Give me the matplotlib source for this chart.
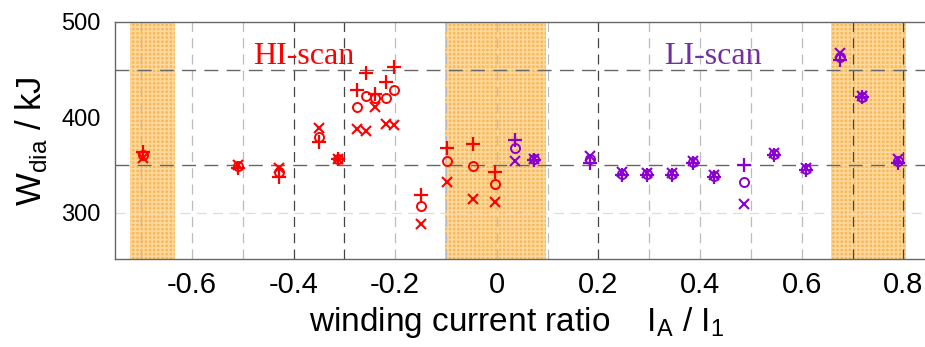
import matplotlib
matplotlib.use('Agg')
import matplotlib.pyplot as plt
import numpy as np

plt.rcParams['font.family'] = ['Liberation Sans', 'DejaVu Sans']
plt.rcParams['mathtext.fontset'] = 'custom'
plt.rcParams['mathtext.rm'] = 'Liberation Sans'
plt.rcParams['hatch.linewidth'] = 1.2

# HI-scan (red)
hi_x = [-0.697, -0.51, -0.429, -0.350, -0.313, -0.276, -0.258, -0.239, -0.219, -0.202,
        -0.150, -0.099, -0.047, -0.004]
hi_plus = [364, 347, 338, 374, 356, 429, 447, 425, 437, 453, 319, 368, 372, 343]
hi_circ = [361, 349, 343, 379, 356, 411, 422, 420, 420, 429, 307, 354, 349, 330]
hi_cross = [358, 350, 347, 389, 356, 388, 386, 411, 393, 392, 289, 332, 315, 311]

# LI-scan (purple)
li_x = [0.035, 0.073, 0.184, 0.247, 0.295, 0.344, 0.386, 0.428, 0.487, 0.546,
        0.608, 0.675, 0.719, 0.789]
li_plus = [376, 355, 352, 340, 340, 340, 352, 338, 350, 361, 345, 460, 421, 352]
li_circ = [368, 356, 356, 341, 341, 341, 353, 339, 332, 362, 346, 463, 421, 354]
li_cross = [354, 357, 360, 343, 342, 342, 354, 340, 309, 363, 347, 467, 422, 356]

# shaded ranges
bands = [(-0.722, -0.634), (-0.102, 0.096), (0.657, 0.805)]

red = '#ff0000'
purple = '#8a00d0'

fig = plt.figure(figsize=(9.25, 3.47), dpi=100)
ax = fig.add_axes([0.124, 0.254, 0.885, 0.683])

for a, b in bands:
    ax.axvspan(a, b, facecolor='#f7b95a', edgecolor='#fcd89c', hatch='++++', lw=0, zorder=0)

# grid
for xv in np.arange(-0.7, 0.81, 0.1):
    xv = round(xv, 1)
    dark = xv in (-0.4, -0.3, 0.2, 0.7, 0.8)
    ax.axvline(xv, color='#444444' if dark else '#bbbbbb', lw=0.9, ls=(0, (8, 5)), zorder=1)
for yv in (350, 450):
    ax.axhline(yv, color='#666666', lw=1.0, ls=(0, (10, 6)), zorder=1)
ax.axhline(300, color='#dddddd', lw=0.9, ls=(0, (8, 5)), zorder=1)

for xs, p, c, x_, col in [(hi_x, hi_plus, hi_circ, hi_cross, red),
                          (li_x, li_plus, li_circ, li_cross, purple)]:
    ax.plot(xs, p, '+', color=col, ms=10, mew=1.6, ls='none', zorder=3)
    ax.plot(xs, c, 'o', color=col, mfc='none', ms=6.5, mew=1.4, ls='none', zorder=3)
    ax.plot(xs, x_, 'x', color=col, ms=7, mew=1.5, ls='none', zorder=3)

ax.text(-0.38, 456, 'HI-scan', color=red, fontsize=23, family='Liberation Serif',
        ha='center', va='baseline')
ax.text(0.426, 456, 'LI-scan', color='#7030a0', fontsize=23, family='Liberation Serif',
        ha='center', va='baseline')

ax.set_xlim(-0.752, 0.859)
ax.set_ylim(252, 500)
ax.set_xticks([-0.6, -0.4, -0.2, 0, 0.2, 0.4, 0.6, 0.8])
ax.set_xticklabels(['-0.6', '-0.4', '-0.2', '0', '0.2', '0.4', '0.6', '0.8'])
ax.set_yticks([300, 400, 500])
ax.set_yticks([350, 450], minor=True)
ax.tick_params(axis='x', length=0, labelsize=21, pad=9)
ax.tick_params(axis='y', which='major', length=0, labelsize=17, pad=10)
ax.tick_params(axis='y', which='minor', length=4, direction='in', color='#666666')

for s in ('left', 'bottom', 'top'):
    ax.spines[s].set_color('#666666')
    ax.spines[s].set_linewidth(1.0)
ax.spines['right'].set_visible(False)

fig.text(0.334, 0.046, r'winding current ratio    I$_\mathrm{A}$ / I$_\mathrm{1}$',
         fontsize=24, ha='left', va='baseline')
fig.text(0.034, 0.594, r'W$_\mathrm{dia}$ / kJ', fontsize=25, rotation=90,
         ha='center', va='center')

fig.savefig('out.png', dpi=100)
